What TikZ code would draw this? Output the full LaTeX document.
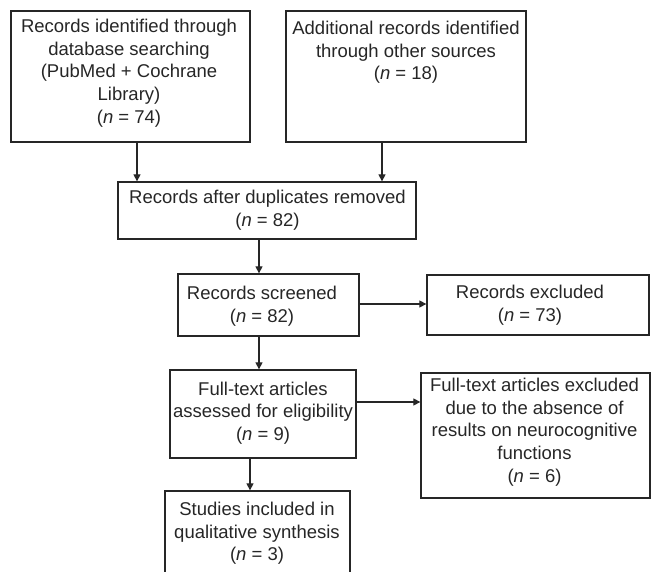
\documentclass[tikz,border=0pt]{standalone}
\usepackage{fontspec}
\setmainfont{Liberation Sans}
\usetikzlibrary{arrows.meta}
\begin{document}
\begin{tikzpicture}[x=1pt,y=-1pt,
  box/.style={draw=black!85, line width=1.3pt, inner sep=0pt},
  txt/.style={align=center, inner sep=0pt, text=black!85, yshift=-2.5pt, font=\fontsize{18.5}{22.7}\selectfont},
  arr/.style={draw=black!85, line width=1.2pt, -{Triangle[length=7pt,width=7pt]}}]
\useasboundingbox (0,0) rectangle (651,572);
% boxes
\node[box, minimum width=239pt, minimum height=131pt] (b1) at (130.5,76.5) {};
\node[box, minimum width=240pt, minimum height=131pt] (b2) at (406,76.5) {};
\node[box, minimum width=298pt, minimum height=57pt] (b3) at (267,210.5) {};
\node[box, minimum width=181pt, minimum height=62pt] (b4) at (268.5,305) {};
\node[box, minimum width=222pt, minimum height=60pt] (b5) at (538,305) {};
\node[box, minimum width=186pt, minimum height=88pt] (b6) at (263,414) {};
\node[box, minimum width=229pt, minimum height=125pt] (b7) at (535.5,435.5) {};
\node[box, minimum width=185pt, minimum height=100pt] (b8) at (257.5,541) {};
% texts
\node[txt] (t1) at (129,70.5) {Records identified through\\database searching\\(PubMed + Cochrane\\Library)\\(\textit{n} = 74)};
\node[txt] (t2) at (406,50) {Additional records identified\\through other sources\\(\textit{n} = 18)};
\node[txt] (t3) at (267.5,207.5) {Records after duplicates removed\\(\textit{n} = 82)};
\node[txt] (t4) at (262,303.5) {Records screened\\(\textit{n} = 82)};
\node[txt] (t5) at (530,303) {Records excluded\\(\textit{n} = 73)};
\node[txt] (t6) at (263,410.5) {Full-text articles\\assessed for eligibility\\(\textit{n} = 9)};
\node[txt] (t7) at (534.5,429.5) {Full-text articles excluded\\due to the absence of\\results on neurocognitive\\functions\\(\textit{n} = 6)};
\node[txt] (t8) at (257,531) {Studies included in\\qualitative synthesis\\(\textit{n} = 3)};
% connectors
\draw[arr] ([xshift=6.5pt]b1.south) -- ([xshift=6.5pt]b1.south |- b3.north);
\draw[arr] ([xshift=-24pt]b2.south) -- ([xshift=-24pt]b2.south |- b3.north);
\draw[arr] ([xshift=-8pt]b3.south) -- ([xshift=-8pt]b3.south |- b4.north);
\draw[arr] ([yshift=1pt]b4.east) -- ([yshift=1pt]b4.east -| b5.west);
\draw[arr] ([xshift=-9.5pt]b4.south) -- ([xshift=-9.5pt]b4.south |- b6.north);
\draw[arr] ([yshift=12pt]b6.east) -- ([yshift=12pt]b6.east -| b7.west);
\draw[arr] ([xshift=-13pt]b6.south) -- ([xshift=-13pt]b6.south |- b8.north);
\end{tikzpicture}
\end{document}
